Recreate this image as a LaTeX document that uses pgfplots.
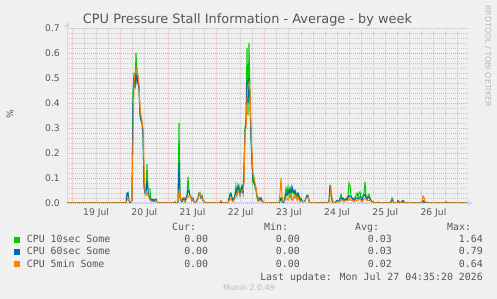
\documentclass[border=0pt]{standalone}
\usepackage{fontspec}
\setmainfont{DejaVu Sans}
\newfontfamily\monofont{DejaVu Sans Mono}
\usepackage{pgfplots}
\usepackage{pgfplotstable}
\pgfplotsset{compat=1.18}
\usetikzlibrary{arrows.meta}
\definecolor{bg}{HTML}{F0F0F0}
\definecolor{fontc}{HTML}{555555}
\definecolor{axisc}{HTML}{CFD6F8}
\definecolor{mgrid}{RGB}{232,165,165}
\definecolor{vgrid}{RGB}{236,185,185}
\definecolor{mingrid}{RGB}{200,200,200}
\definecolor{cg}{HTML}{00CC00}
\definecolor{cb}{HTML}{0066B3}
\definecolor{co}{HTML}{FF8000}
\definecolor{wm}{HTML}{BBBBBB}

\pgfplotstableread{
px g b o
67 0 0 0
126 0 0 0
127 0.03 0.04 0.01
128 0.04 0.04 0.02
129 0.01 0.01 0.01
130 0 0 0.005
131 0.005 0.005 0.005
132 0.01 0.01 0.01
133 0.45 0.40 0.25
134 0.52 0.50 0.48
135 0.46 0.47 0.52
136 0.60 0.52 0.53
137 0.52 0.48 0.54
138 0.49 0.50 0.51
139 0.47 0.45 0.47
140 0.36 0.35 0.38
141 0.34 0.33 0.35
142 0.32 0.32 0.33
143 0.28 0.26 0.30
144 0.06 0.08 0.15
145 0.04 0.04 0.05
146 0.05 0.04 0.03
147 0.155 0.09 0.04
148 0.06 0.05 0.03
149 0.055 0.03 0.02
150 0.055 0.02 0.01
151 0.01 0.01 0.01
152 0.015 0.01 0.005
153 0.01 0.015 0.005
154 0.015 0.01 0.005
155 0.01 0.01 0.005
156 0.015 0.015 0.01
157 0.005 0.005 0.005
158 0 0 0
174 0 0 0
175 0.003 0.005 0
176 0 0 0
178 0 0 0
179 0.32 0.16 0.05
180 0.02 0.03 0.04
181 0.01 0.01 0.015
182 0.005 0.005 0.01
183 0.02 0.015 0.01
184 0.01 0.02 0.01
185 0.005 0.005 0.005
186 0.02 0.02 0.01
187 0.03 0.03 0.02
188 0.105 0.05 0.02
189 0.04 0.05 0.03
190 0.03 0.03 0.03
191 0.02 0.025 0.02
192 0.01 0.01 0.015
193 0.015 0.02 0.01
194 0.005 0.005 0.005
195 0.005 0.005 0.005
196 0 0 0
197 0.01 0.015 0.01
198 0.02 0.02 0.015
199 0.03 0.04 0.03
200 0.04 0.035 0.04
201 0.02 0.02 0.025
202 0.03 0.025 0.02
203 0.01 0.01 0.01
204 0.005 0.005 0.005
205 0 0 0
219 0 0 0
220 0 0 0.005
221 0.005 0.005 0.01
222 0 0 0.005
223 0 0 0
228 0 0 0
229 0.01 0.02 0.01
230 0.04 0.03 0.01
231 0.04 0.035 0.02
232 0.02 0.02 0.01
233 0.01 0.01 0.005
234 0.02 0.02 0.01
235 0.035 0.03 0.02
236 0.07 0.05 0.03
237 0.03 0.04 0.04
238 0.06 0.07 0.05
239 0.07 0.05 0.04
240 0.04 0.03 0.03
241 0.06 0.05 0.04
242 0.07 0.065 0.05
243 0.04 0.04 0.05
244 0.15 0.12 0.08
245 0.30 0.29 0.28
246 0.34 0.32 0.30
247 0.62 0.49 0.42
248 0.35 0.40 0.47
249 0.64 0.50 0.48
250 0.45 0.40 0.45
251 0.28 0.25 0.30
252 0.15 0.17 0.20
253 0.08 0.09 0.12
254 0.10 0.08 0.10
255 0.06 0.07 0.08
256 0.05 0.06 0.06
257 0.02 0.03 0.03
258 0.01 0.01 0.02
259 0.02 0.02 0.01
260 0.01 0.015 0.01
261 0.02 0.02 0.01
262 0.01 0.01 0.005
263 0.005 0.005 0.005
264 0 0 0
279 0 0 0
280 0.005 0.01 0.04
281 0.02 0.02 0.10
282 0.01 0.01 0.03
283 0 0 0.005
284 0.005 0.005 0.005
285 0.03 0.02 0.01
286 0.06 0.04 0.02
287 0.04 0.03 0.02
288 0.065 0.045 0.01
289 0.03 0.04 0.02
290 0.05 0.06 0.03
291 0.02 0.03 0.04
292 0.06 0.065 0.02
293 0.04 0.05 0.01
294 0.05 0.04 0.03
295 0.03 0.05 0.02
296 0.04 0.035 0.03
297 0.02 0.03 0.01
298 0.035 0.04 0.02
299 0.02 0.03 0.015
300 0.01 0.01 0.005
301 0.02 0.015 0.01
302 0.01 0.01 0.005
303 0.005 0.005 0.005
304 0.005 0.005 0.005
305 0.01 0.01 0.005
306 0.02 0.02 0.02
307 0.03 0.03 0.02
308 0.025 0.03 0.025
309 0.005 0.01 0.01
310 0 0 0
320 0 0 0
321 0.002 0.003 0
322 0 0 0
323 0.002 0.003 0
324 0 0 0
326 0.002 0.003 0
327 0 0 0
328 0 0 0
329 0.01 0.01 0.005
330 0.06 0.07 0.03
331 0.03 0.04 0.06
332 0.01 0.01 0.02
333 0 0 0.005
334 0 0 0
335 0 0 0
336 0.005 0.005 0
337 0.01 0.01 0.005
338 0.005 0.005 0.005
339 0.01 0.01 0.005
340 0.02 0.015 0.005
341 0.035 0.02 0.01
342 0.02 0.015 0.01
343 0.01 0.02 0.01
344 0.015 0.015 0.005
345 0.01 0.01 0.01
346 0.02 0.015 0.01
347 0.015 0.01 0.01
348 0.03 0.02 0.01
349 0.08 0.03 0.015
350 0.07 0.025 0.02
351 0.03 0.025 0.01
352 0.02 0.02 0.01
353 0.01 0.015 0.01
354 0.02 0.01 0.005
355 0.015 0.015 0.01
356 0.03 0.02 0.01
357 0.04 0.02 0.01
358 0.025 0.015 0.01
359 0.04 0.02 0.015
360 0.045 0.025 0.015
361 0.02 0.02 0.01
362 0.01 0.01 0.005
363 0.03 0.025 0.01
364 0.04 0.03 0.015
365 0.085 0.035 0.02
366 0.03 0.02 0.015
367 0.015 0.015 0.01
368 0.03 0.02 0.01
369 0.035 0.025 0.01
370 0.02 0.015 0.01
371 0.01 0.01 0.005
372 0.005 0.005 0.005
373 0.005 0.005 0.003
374 0 0 0
377 0 0 0
378 0.002 0.004 0
379 0 0 0
390 0 0 0
391 0.005 0.005 0
392 0.02 0.01 0.005
393 0.01 0.005 0.005
394 0 0 0
397 0 0 0
398 0.005 0.01 0.003
399 0.003 0.005 0
400 0 0 0
401 0 0 0
402 0.005 0.008 0
403 0.008 0.01 0.003
404 0.003 0.005 0
405 0 0 0
421 0 0 0
422 0 0 0.01
423 0.005 0.005 0.028
424 0.01 0.01 0.022
425 0 0 0.005
426 0 0 0
427 0.002 0.004 0
428 0 0 0
445 0 0 0
446 0.002 0.005 0
447 0 0 0
467 0 0 0
}\psidata

\begin{document}
\begin{tikzpicture}
\fill[bg] (0bp,0bp) rectangle (497bp,299bp);
\begin{axis}[
  at={(67bp,96bp)}, anchor=south west,
  scale only axis, width=401bp, height=175bp,
  xmin=-2.49, xmax=197.2, ymin=0, ymax=0.7,
  axis lines=left,
  x axis line style={draw=axisc, line width=1bp, -{Triangle[length=5bp,width=5bp]}, shorten >=-5bp},
  y axis line style={draw=axisc, line width=1bp, -{Triangle[length=5bp,width=5bp]}, shorten >=-6bp},
  tick style={draw=none},
  major tick length=0pt, minor tick length=0pt,
  xtick={12,36,60,84,108,132,156,180},
  xticklabels={19 Jul,20 Jul,21 Jul,22 Jul,23 Jul,24 Jul,25 Jul,26 Jul},
  xmajorgrids=false,
  minor xtick={6,12,18,30,36,42,54,60,66,78,84,90,102,108,114,126,132,138,150,156,162,174,180,186},
  xminorgrids=true,
  extra x ticks={0,24,48,72,96,120,144,168,192},
  extra x tick labels={},
  extra x tick style={xmajorgrids=true, major grid style={draw=vgrid, line width=0.8bp, dash pattern=on 1bp off 1bp}},
  ytick={0,0.1,0.2,0.3,0.4,0.5,0.6,0.7},
  yticklabels={0.0,0.1,0.2,0.3,0.4,0.5,0.6,0.7},
  minor ytick={0.02,0.04,0.06,0.08,0.12,0.14,0.16,0.18,0.22,0.24,0.26,0.28,0.32,0.34,0.36,0.38,0.42,0.44,0.46,0.48,0.52,0.54,0.56,0.58,0.62,0.64,0.66,0.68},
  ymajorgrids=true, yminorgrids=true,
  major grid style={draw=mgrid, line width=0.8bp, dash pattern=on 1bp off 1bp},
  minor grid style={draw=mingrid, line width=0.8bp, dash pattern=on 1bp off 1bp},
  tick label style={font=\fontsize{9.2bp}{10bp}\selectfont, text=fontc, inner sep=0pt},
  yticklabel style={anchor=east, xshift=-7bp},
  xticklabel style={anchor=north, yshift=-5bp},
  clip=true,
]
\addplot[cg, line width=1bp, mark=none] table[x expr={(\thisrow{px}-72)*0.498}, y=g] {\psidata};
\addplot[cb, line width=1bp, mark=none] table[x expr={(\thisrow{px}-72)*0.498}, y=b] {\psidata};
\addplot[co, line width=1bp, mark=none] table[x expr={(\thisrow{px}-72)*0.498}, y=o] {\psidata};
\end{axis}
% title and labels
\node[anchor=base, inner sep=0pt, text=fontc, font=\fontsize{12.9bp}{14bp}\selectfont] at (247.5bp,275bp) {CPU Pressure Stall Information - Average - by week};
\node[rotate=90, inner sep=0pt, text=fontc, font=\fontsize{9.2bp}{10bp}\selectfont] at (10bp,185bp) {\%};
\node[rotate=-90, inner sep=0pt, text=wm, font=\fontsize{7.9bp}{9bp}\selectfont] at (488bp,243bp) {RRDTOOL / TOBI OETIKER};
% legend
\begin{scope}[every node/.style={inner sep=0pt, text=fontc, font=\monofont\fontsize{9.9bp}{11bp}\selectfont}]
\node[anchor=base west] at (172bp,68bp) {Cur:};
\node[anchor=base west] at (264bp,68bp) {Min:};
\node[anchor=base west] at (355bp,68bp) {Avg:};
\node[anchor=base west] at (447bp,68bp) {Max:};
\fill[cg] (14bp,56bp) rectangle (20bp,62bp);
\fill[cb] (14bp,44bp) rectangle (20bp,50bp);
\fill[co] (14bp,32bp) rectangle (20bp,38bp);
\node[anchor=base west] at (26.7bp,56bp) {CPU 10sec Some};
\node[anchor=base west] at (26.7bp,44bp) {CPU 60sec Some};
\node[anchor=base west] at (26.7bp,32bp) {CPU 5min Some};
\node[anchor=base east] at (208.3bp,56bp) {0.00};
\node[anchor=base east] at (208.3bp,44bp) {0.00};
\node[anchor=base east] at (208.3bp,32bp) {0.00};
\node[anchor=base east] at (300bp,56bp) {0.00};
\node[anchor=base east] at (300bp,44bp) {0.00};
\node[anchor=base east] at (300bp,32bp) {0.00};
\node[anchor=base east] at (392bp,56bp) {0.03};
\node[anchor=base east] at (392bp,44bp) {0.03};
\node[anchor=base east] at (392bp,32bp) {0.02};
\node[anchor=base east] at (483bp,56bp) {1.64};
\node[anchor=base east] at (483bp,44bp) {0.79};
\node[anchor=base east] at (483bp,32bp) {0.64};
\node[anchor=base east] at (483bp,19bp) {Last update: Mon Jul 27 04:35:20 2026};
\end{scope}
\node[anchor=base, inner sep=0pt, text=wm, font=\fontsize{7.9bp}{9bp}\selectfont] at (249bp,9bp) {Munin 2.0.49};
\end{tikzpicture}
\end{document}
